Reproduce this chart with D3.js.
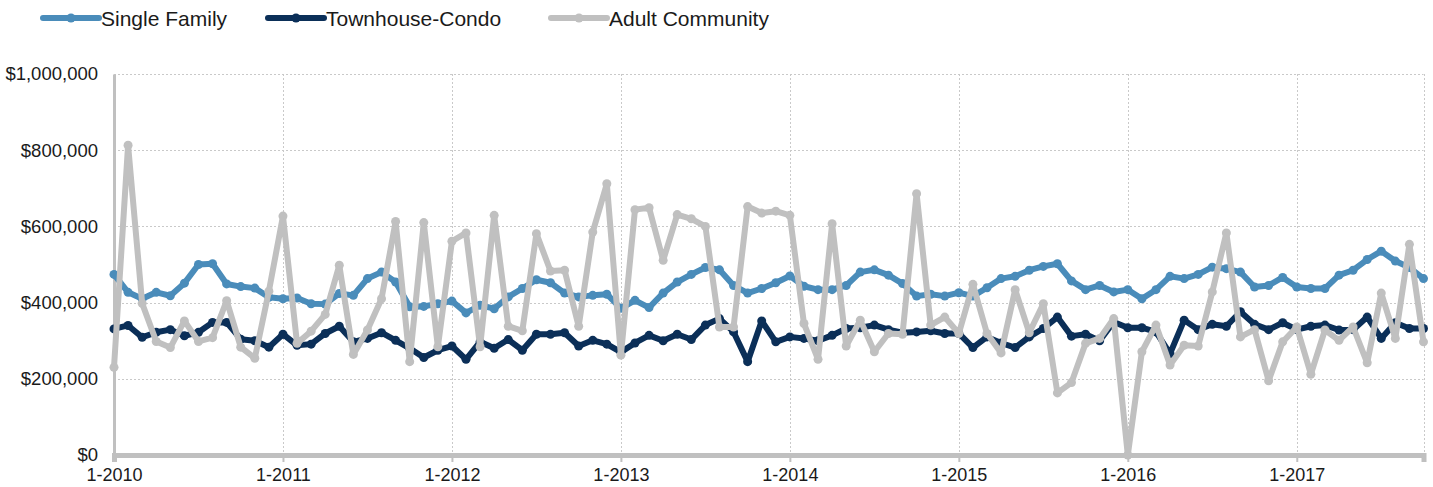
<!DOCTYPE html>
<html>
<head>
<meta charset="utf-8">
<script src="https://cdn.jsdelivr.net/npm/d3@7"></script>
<style>
  body { margin: 0; background: #fff; }
  svg text { font-family: "Liberation Sans", Arial, Helvetica, sans-serif; fill: #1a1a1a; }
</style>
</head>
<body>
<svg id="chart" width="1433" height="487"></svg>
<script>
// monthly median price, thousands of dollars, Jan 2010 .. Oct 2017
var yearTicks = ["1-2010", "1-2011", "1-2012", "1-2013", "1-2014", "1-2015", "1-2016", "1-2017"];
var yTicks = [0, 200000, 400000, 600000, 800000, 1000000];
var seriesNames = ["Single Family", "Townhouse-Condo", "Adult Community"];
var seriesColors = ["#4a8cba", "#0b2f58", "#c0c0c0"];

var singleFamily = [
  474, 427, 410, 427, 418, 451, 500, 502, 449, 442, 438, 414,
  410, 412, 397, 396, 424, 419, 463, 480, 454, 389, 390, 397,
  404, 373, 393, 384, 415, 437, 460, 452, 425, 415, 419, 422,
  385, 406, 387, 425, 454, 474, 492, 486, 445, 425, 437, 452,
  470, 443, 434, 434, 445, 480, 486, 472, 450, 417, 422, 417,
  426, 417, 439, 463, 469, 485, 495, 502, 457, 434, 445, 428,
  434, 410, 434, 469, 463, 474, 493, 489, 480, 441, 445, 466,
  441, 437, 437, 472, 485, 513, 535, 509, 492, 463
];
var townhouseCondo = [
  331, 340, 309, 322, 329, 313, 322, 348, 348, 304, 300, 283,
  317, 288, 291, 319, 338, 297, 306, 321, 301, 280, 256, 275,
  286, 251, 297, 280, 303, 275, 317, 317, 321, 286, 301, 291,
  270, 294, 314, 300, 317, 303, 341, 358, 323, 245, 352, 297,
  310, 306, 300, 314, 332, 334, 341, 329, 321, 323, 326, 319,
  319, 282, 310, 294, 282, 310, 332, 362, 312, 317, 300, 349,
  334, 334, 323, 266, 354, 329, 343, 338, 376, 343, 329, 347,
  329, 338, 341, 328, 329, 362, 306, 347, 332, 332
];
var adultCommunity = [
  230, 813, 398, 298, 282, 352, 298, 308, 405, 283, 254, 430,
  627, 293, 325, 369, 498, 264, 328, 410, 613, 245, 610, 284,
  561, 583, 284, 629, 338, 326, 581, 483, 485, 338, 585, 712,
  262, 644, 649, 511, 631, 620, 600, 336, 336, 652, 635, 640,
  629, 345, 251, 607, 286, 354, 271, 319, 317, 686, 341, 362,
  319, 448, 319, 268, 434, 321, 397, 163, 190, 293, 306, 358,
  0, 271, 341, 236, 288, 286, 428, 583, 310, 329, 195, 297,
  336, 212, 328, 301, 336, 242, 425, 306, 553, 297
];

var svg = d3.select("svg#chart");
var plotLeft = 114, plotRight = 1423.5, plotTop = 74, plotBottom = 455;

var x = d3.scaleLinear().domain([0, singleFamily.length - 1]).range([plotLeft, plotRight]);
var y = d3.scaleLinear().domain([0, 1000000]).range([plotBottom, plotTop]);
var tickIdx = yearTicks.map(function(d, i) { return i * 12; });

// grid
var grid = svg.append("g").attr("class", "grid")
    .attr("stroke", "#c9c9c9").attr("stroke-width", 1).attr("stroke-dasharray", "2,2");
grid.selectAll("line.h")
    .data(yTicks.slice(1))
    .enter().append("line")
    .attr("x1", plotLeft).attr("x2", plotRight)
    .attr("y1", function(d) { return Math.round(y(d)) + .5; })
    .attr("y2", function(d) { return Math.round(y(d)) + .5; });
grid.selectAll("line.v")
    .data(tickIdx.slice(1).concat([singleFamily.length - 1]))
    .enter().append("line")
    .attr("x1", function(d) { return Math.round(x(d)) + .5; })
    .attr("x2", function(d) { return Math.round(x(d)) + .5; })
    .attr("y1", plotTop).attr("y2", plotBottom);

// axes
var yAxis = svg.append("g")
    .attr("transform", "translate(" + plotLeft + ",0)")
    .call(d3.axisLeft(y).tickValues(yTicks).tickSize(0).tickPadding(16).tickFormat(d3.format("$,")));
yAxis.select(".domain").attr("stroke", "#c0c0c0").attr("stroke-width", 3);
yAxis.selectAll("text").attr("font-size", "18.5px");

var xAxis = svg.append("g")
    .attr("transform", "translate(0," + plotBottom + ")")
    .call(d3.axisBottom(x).tickValues(tickIdx).tickSizeOuter(0).tickSize(7).tickPadding(6)
      .tickFormat(function(d, i) { return yearTicks[i]; }));
xAxis.select(".domain").attr("stroke", "#c0c0c0").attr("stroke-width", 5);
xAxis.selectAll(".tick line").attr("stroke", "#c0c0c0").attr("stroke-width", 2);
xAxis.selectAll("text").attr("font-size", "18px");

// series
var allSeries = [singleFamily, townhouseCondo, adultCommunity];
var line = d3.line()
    .x(function(d, i) { return x(i); })
    .y(function(d) { return y(d * 1000); });

allSeries.forEach(function(vals, s) {
  var g = svg.append("g").attr("class", "series");
  g.append("path")
    .datum(vals)
    .attr("fill", "none")
    .attr("stroke", seriesColors[s])
    .attr("stroke-width", 6)
    .attr("stroke-linejoin", "round")
    .attr("d", line);
  g.selectAll("circle")
    .data(vals)
    .enter().append("circle")
    .attr("cx", function(d, i) { return x(i); })
    .attr("cy", function(d) { return y(d * 1000); })
    .attr("r", 4.5)
    .attr("fill", seriesColors[s]);
});

// legend
var legendX = [43, 268, 551];
var legend = svg.append("g").attr("class", "legend");
seriesNames.forEach(function(name, s) {
  var lg = legend.append("g").attr("transform", "translate(" + legendX[s] + ",18)");
  lg.append("line")
    .attr("x1", 0).attr("x2", 56).attr("y1", 0).attr("y2", 0)
    .attr("stroke", seriesColors[s]).attr("stroke-width", 6).attr("stroke-linecap", "round");
  lg.append("circle").attr("cx", 28).attr("cy", 0).attr("r", 4.5).attr("fill", seriesColors[s]);
  lg.append("text")
    .attr("x", 58).attr("y", 0).attr("dy", "0.36em")
    .attr("font-size", "21px")
    .text(name);
});
</script>
</body>
</html>
